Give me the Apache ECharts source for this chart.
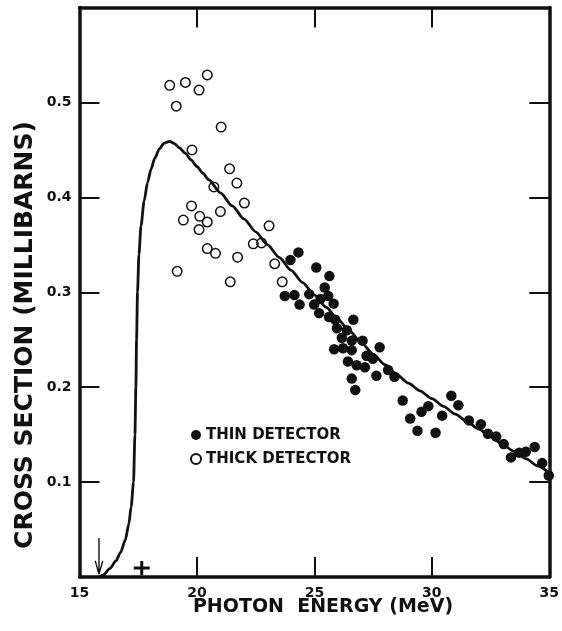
<!DOCTYPE html>
<html>
<head>
<meta charset="utf-8">
<script src="https://cdn.jsdelivr.net/npm/echarts@6/dist/echarts.min.js"></script>
<style>
  html, body { margin: 0; padding: 0; background: #fff; }
  #chart { width: 562px; height: 631px; }
</style>
</head>
<body>
<div id="chart"></div>
<script>
// Photon energy (MeV) and cross section (millibarns), thin detector
const thinE = [24.32, 23.98, 25.08, 25.64, 25.44, 23.74, 24.15, 24.37, 24.78, 24.99,
  25.26, 25.59, 25.82, 25.20, 25.62, 25.89, 26.66, 25.96, 26.38, 26.17,
  26.59, 27.05, 25.84, 26.22, 26.59, 27.78, 27.22, 27.49, 26.43, 26.80,
  27.15, 26.59, 26.74, 27.64, 28.14, 28.41, 28.76, 29.08, 29.39, 29.56,
  29.85, 30.16, 30.44, 30.83, 31.13, 31.58, 32.09, 32.39, 32.74, 33.06,
  33.37, 33.72, 34.00, 34.38, 34.70, 34.98];
const thinV = [0.342, 0.334, 0.326, 0.317, 0.305, 0.296, 0.297, 0.287, 0.298, 0.287,
  0.293, 0.296, 0.288, 0.278, 0.274, 0.271, 0.271, 0.262, 0.260, 0.252,
  0.249, 0.249, 0.240, 0.241, 0.239, 0.242, 0.233, 0.230, 0.227, 0.223,
  0.221, 0.209, 0.197, 0.212, 0.218, 0.211, 0.186, 0.167, 0.154, 0.174,
  0.180, 0.152, 0.170, 0.191, 0.181, 0.165, 0.161, 0.151, 0.148, 0.140,
  0.126, 0.131, 0.132, 0.137, 0.120, 0.107];

// Thick detector
const thickE = [18.84, 19.51, 20.09, 20.44, 19.12, 21.03, 19.79, 21.39, 21.70, 20.72,
  19.77, 22.02, 21.00, 19.42, 20.12, 20.44, 20.09, 23.07, 22.40, 22.75,
  20.44, 20.79, 21.73, 23.31, 19.16, 21.42, 23.63];
const thickV = [0.518, 0.521, 0.513, 0.529, 0.496, 0.474, 0.450, 0.430, 0.415, 0.411,
  0.391, 0.394, 0.385, 0.376, 0.380, 0.374, 0.366, 0.370, 0.351, 0.352,
  0.346, 0.341, 0.337, 0.330, 0.322, 0.311, 0.311];

// Theoretical cross-section curve
const curveE = [15.83, 16.0, 16.3, 16.55, 16.75, 16.95, 17.1, 17.2, 17.3, 17.36,
  17.40, 17.43, 17.47, 17.53, 17.62, 17.75, 17.9, 18.05, 18.2, 18.4,
  18.6, 18.84, 19.05, 19.26, 19.5, 19.75, 20.0, 20.25, 20.5, 21.0,
  21.5, 22.0, 22.5, 23.0, 23.5, 24.0, 24.5, 25.0, 25.5, 26.0,
  26.5, 27.0, 27.5, 28.0, 28.5, 29.0, 29.5, 30.0, 30.5, 31.0,
  31.5, 32.0, 32.5, 33.0, 33.5, 34.0, 34.5, 35.0];
const curveV = [0, 0.002, 0.009, 0.017, 0.026, 0.039, 0.056, 0.074, 0.100, 0.150,
  0.200, 0.250, 0.300, 0.340, 0.370, 0.396, 0.416, 0.430, 0.441, 0.451,
  0.457, 0.459, 0.4565, 0.452, 0.4465, 0.4395, 0.4325, 0.4255, 0.4185, 0.4047,
  0.3910, 0.3773, 0.3637, 0.3502, 0.3367, 0.3234, 0.3102, 0.2972, 0.2842, 0.2714,
  0.2589, 0.2467, 0.2349, 0.2237, 0.2135, 0.2042, 0.1961, 0.1879, 0.1798, 0.1716,
  0.1637, 0.1558, 0.1479, 0.1400, 0.1324, 0.1247, 0.1171, 0.1094];

// Threshold arrow (shaft, then both barbs) and the "+" mark on the energy axis
const arrowE = [15.83, 15.83, 15.67, 15.83, 15.99];
const arrowV = [0.041, 0.003, 0.017, 0.003, 0.017];
const plusE = [17.65];
const plusV = [0.0095];

const xTitle = 'PHOTON  ENERGY (MeV)';
const yTitle = 'CROSS SECTION (MILLIBARNS)';
const seriesNames = ['THIN DETECTOR', 'THICK DETECTOR'];

const zip = (a, b) => a.map((v, i) => [v, b[i]]);
const FONT = '"DejaVu Sans", sans-serif';
const INK = '#111';

const frameAxis = (extra) => Object.assign({
  type: 'value',
  axisLine: { show: true, onZero: false, lineStyle: { color: INK, width: 3.5 } },
  axisTick: { show: true, inside: true, length: 20, lineStyle: { color: INK, width: 2 } },
  splitLine: { show: false },
  axisLabel: { show: false }
}, extra);

const chart = echarts.init(document.getElementById('chart'), null, { renderer: 'canvas' });
chart.setOption({
  animation: false,
  backgroundColor: '#fff',
  grid: { left: 79.5, right: 9.5, top: 7.5, bottom: 54, containLabel: false },
  xAxis: [
    frameAxis({
      position: 'bottom', min: 15, max: 35, interval: 5,
      axisLabel: { show: true, margin: 9, color: INK, fontFamily: FONT, fontWeight: 'bold', fontSize: 14 }
    }),
    frameAxis({ position: 'top', min: 15, max: 35, interval: 5 })
  ],
  yAxis: [
    frameAxis({
      position: 'left', min: 0, max: 0.6, interval: 0.1,
      axisLabel: {
        show: true, margin: 8, color: INK, fontFamily: FONT, fontWeight: 'bold', fontSize: 14,
        showMinLabel: false, showMaxLabel: false
      }
    }),
    frameAxis({ position: 'right', min: 0, max: 0.6, interval: 0.1 })
  ],
  legend: {
    data: seriesNames,
    orient: 'vertical',
    left: 190,
    top: 427,
    padding: 0,
    itemWidth: 10,
    itemHeight: 10,
    itemGap: 8,
    textStyle: { color: INK, fontFamily: FONT, fontWeight: 'bold', fontSize: 15, lineHeight: 16 }
  },
  graphic: [
    {
      type: 'text', x: 323, y: 607,
      style: { text: xTitle, fill: INK, font: 'bold 19px ' + FONT, textAlign: 'center', textVerticalAlign: 'middle' }
    },
    {
      type: 'text', x: 25, y: 335, rotation: Math.PI / 2,
      style: { text: yTitle, fill: INK, font: 'bold 25px ' + FONT, textAlign: 'center', textVerticalAlign: 'middle' }
    }
  ],
  series: [
    {
      name: 'curve', type: 'line', data: zip(curveE, curveV),
      smooth: 0.25, smoothMonotone: 'x', showSymbol: false, symbol: 'none',
      lineStyle: { color: INK, width: 2.8 }, z: 3, silent: true
    },
    {
      name: seriesNames[1], type: 'scatter', data: zip(thickE, thickV),
      symbol: 'circle', symbolSize: 9.5,
      itemStyle: { color: 'rgba(255,255,255,0)', borderColor: INK, borderWidth: 1.5, opacity: 1 }, z: 4
    },
    {
      name: seriesNames[0], type: 'scatter', data: zip(thinE, thinV),
      symbol: 'circle', symbolSize: 10.5,
      itemStyle: { color: INK, opacity: 1 }, z: 5
    },
    {
      name: 'threshold', type: 'line', data: zip(arrowE, arrowV),
      showSymbol: false, symbol: 'none',
      lineStyle: { color: INK, width: 1.4 }, z: 3, silent: true
    },
    {
      name: 'plus', type: 'scatter', data: zip(plusE, plusV),
      symbol: 'path://M6.5,0H9.5V14H6.5Z M0,5.5H16V8.5H0Z', symbolSize: [16, 14], symbolKeepAspect: false,
      itemStyle: { color: INK, opacity: 1 }, z: 3, silent: true
    }
  ]
});
</script>
</body>
</html>
